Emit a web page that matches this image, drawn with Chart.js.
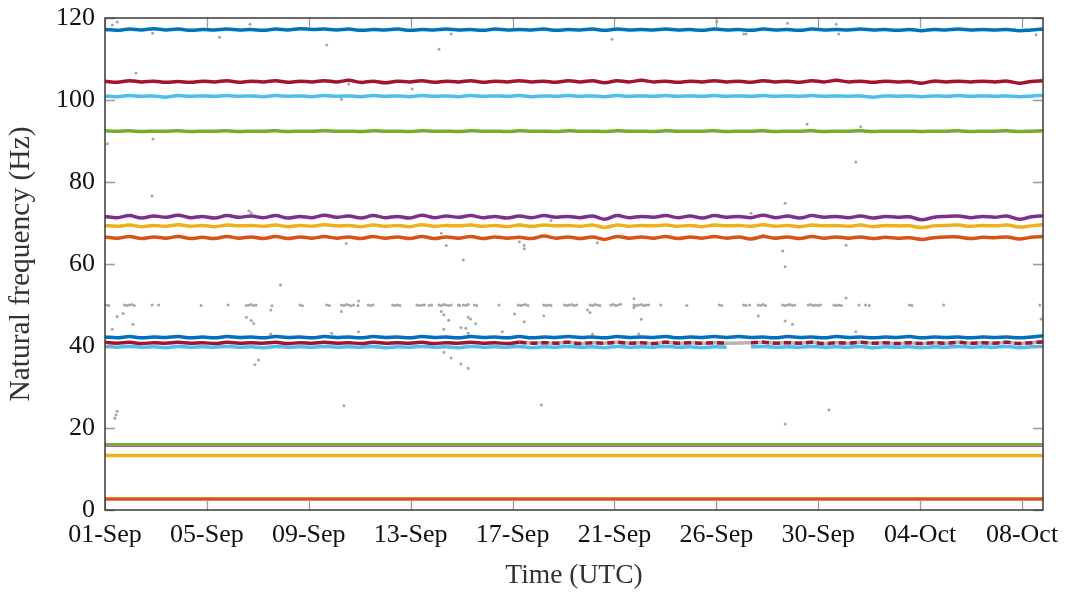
<!DOCTYPE html>
<html>
<head>
<meta charset="utf-8">
<script src="https://cdn.jsdelivr.net/npm/chart.js@4.4.1/dist/chart.umd.min.js"></script>
<style>
  html, body { margin: 0; padding: 0; background: #ffffff; }
  #wrap { width: 1067px; height: 592px; position: relative; }
</style>
</head>
<body>
<div id="wrap"><canvas id="chart"></canvas></div>
<script>
// Time axis: days since 01-Sep 00:00 UTC
const tickLabels = ['01-Sep', '05-Sep', '09-Sep', '13-Sep', '17-Sep', '21-Sep', '26-Sep', '30-Sep', '04-Oct', '08-Oct'];
const TICK_STEP = 4.18;   // days between labelled ticks
const T_END = 38.48;      // last day shown

// Sample times (every half day) for the tracked modes
const days = [
  0, 0.5, 1, 1.5, 2, 2.5, 3, 3.5, 4, 4.5,
  5, 5.5, 6, 6.5, 7, 7.5, 8, 8.5, 9, 9.5,
  10, 10.5, 11, 11.5, 12, 12.5, 13, 13.5, 14, 14.5,
  15, 15.5, 16, 16.5, 17, 17.5, 18, 18.5, 19, 19.5,
  20, 20.5, 21, 21.5, 22, 22.5, 23, 23.5, 24, 24.5,
  25, 25.5, 26, 26.5, 27, 27.5, 28, 28.5, 29, 29.5,
  30, 30.5, 31, 31.5, 32, 32.5, 33, 33.5, 34, 34.5,
  35, 35.5, 36, 36.5, 37, 37.5, 38, 38.48
];

// Tracked natural frequencies (Hz)
const mode117 = [
  117.2,117.0,117.3,117.1,117.4,117.1,117.3,117.0,117.2,117.1,
  117.3,117.1,117.2,117.0,117.3,117.1,117.4,117.2,117.3,117.1,
  117.3,117.0,117.2,117.1,117.3,117.0,117.2,117.1,117.3,117.1,
  117.2,117.0,117.3,117.1,117.2,117.1,117.3,117.0,117.2,117.1,
  117.3,117.0,117.3,117.1,117.2,117.1,117.3,117.1,117.2,117.0,
  117.3,117.1,117.2,117.0,117.3,117.1,117.2,117.0,117.3,117.1,
  117.2,117.1,117.3,117.1,117.2,117.0,117.2,116.9,117.2,117.1,
  117.3,117.1,117.2,117.1,117.2,116.9,117.1,117.3
];
const mode104 = [
  104.6,104.3,104.7,104.4,104.6,104.3,104.5,104.3,104.6,104.4,
  104.7,104.3,104.6,104.4,104.7,104.3,104.6,104.4,104.7,104.4,
  104.8,104.3,104.6,104.2,104.6,104.4,104.7,104.3,104.6,104.4,
  104.7,104.3,104.6,104.4,104.7,104.4,104.6,104.3,104.7,104.4,
  104.7,104.2,104.7,104.4,104.8,104.4,104.6,104.3,104.6,104.4,
  104.7,104.4,104.6,104.3,104.7,104.4,104.6,104.3,104.7,104.4,
  104.8,104.4,104.6,104.3,104.6,104.4,104.5,104.1,104.6,104.4,
  104.6,104.4,104.6,104.4,104.6,104.1,104.5,104.7
];
const mode101 = [
  101.0,100.8,101.1,100.9,101.0,100.7,101.1,100.9,101.0,100.9,
  101.1,100.9,101.0,100.8,101.1,100.9,101.0,100.8,101.1,100.9,
  101.0,100.8,101.1,100.9,101.0,100.8,101.1,100.9,101.0,100.8,
  101.1,100.9,101.0,100.9,101.1,100.8,101.0,100.9,101.1,100.9,
  101.0,100.8,101.1,100.9,101.0,100.9,101.1,100.9,101.0,100.9,
  101.1,100.9,101.0,100.9,101.1,100.9,101.0,100.9,101.1,100.9,
  101.0,100.9,101.0,100.7,101.0,100.9,101.0,100.8,101.0,100.9,
  101.1,100.9,101.0,100.9,101.0,100.8,101.0,101.1
];
const mode92 = [
  92.5,92.4,92.5,92.3,92.4,92.4,92.5,92.3,92.4,92.4,
  92.5,92.3,92.4,92.4,92.5,92.3,92.4,92.4,92.5,92.4,
  92.4,92.3,92.5,92.4,92.4,92.3,92.5,92.4,92.4,92.3,
  92.5,92.4,92.4,92.3,92.5,92.4,92.4,92.3,92.5,92.4,
  92.4,92.3,92.5,92.4,92.4,92.3,92.5,92.4,92.4,92.4,
  92.5,92.3,92.4,92.4,92.5,92.3,92.4,92.4,92.5,92.3,
  92.4,92.4,92.5,92.3,92.4,92.4,92.4,92.3,92.4,92.4,
  92.5,92.3,92.4,92.4,92.5,92.3,92.4,92.5
];
const mode71 = [
  71.6,71.3,71.8,71.2,71.7,71.4,71.9,71.3,71.6,71.2,
  71.8,71.4,71.7,71.3,71.8,71.2,71.6,71.3,71.9,71.4,
  71.7,71.2,71.8,71.3,71.6,71.2,71.9,71.3,71.7,71.4,
  71.8,71.3,71.6,71.2,71.7,71.3,71.8,71.4,71.6,71.3,
  71.7,70.9,71.8,71.3,71.6,71.4,71.8,71.3,71.7,71.2,
  71.8,71.4,71.6,71.3,71.9,71.3,71.7,71.2,71.8,71.4,
  71.6,71.3,71.7,71.2,71.6,71.4,71.5,70.8,71.4,71.6,
  71.7,71.3,71.6,71.4,71.7,70.9,71.5,71.8
];
const mode69 = [
  69.4,69.2,69.5,69.1,69.4,69.2,69.6,69.2,69.4,69.1,
  69.5,69.3,69.4,69.2,69.5,69.1,69.4,69.2,69.6,69.3,
  69.4,69.1,69.5,69.2,69.4,69.1,69.6,69.2,69.4,69.3,
  69.5,69.2,69.4,69.1,69.5,69.2,69.5,69.3,69.4,69.2,
  69.5,68.9,69.5,69.2,69.4,69.3,69.5,69.2,69.4,69.1,
  69.5,69.3,69.4,69.2,69.6,69.2,69.4,69.1,69.5,69.3,
  69.4,69.2,69.5,69.1,69.4,69.3,69.3,68.9,69.3,69.4,
  69.5,69.2,69.4,69.3,69.5,69.0,69.3,69.6
];
const mode66 = [
  66.6,66.3,66.7,66.2,66.6,66.3,66.7,66.2,66.5,66.2,
  66.7,66.3,66.6,66.2,66.7,66.2,66.6,66.3,66.7,66.3,
  66.6,66.2,66.7,66.3,66.6,66.2,66.7,66.2,66.6,66.3,
  66.7,66.2,66.6,66.3,66.5,66.2,66.8,66.3,66.6,66.2,
  66.6,66.0,66.7,66.3,66.6,66.3,66.7,66.2,66.6,66.3,
  66.7,66.3,66.6,66.1,66.7,66.3,66.6,66.2,66.7,66.3,
  66.6,66.3,66.6,66.2,66.5,66.3,66.4,66.0,66.4,66.6,
  66.6,66.2,66.5,66.4,66.6,66.1,66.5,66.7
];
const mode42 = [
  42.2,42.0,42.3,42.0,42.2,42.1,42.3,42.0,42.2,42.0,
  42.3,42.1,42.2,42.0,42.3,42.1,42.2,42.0,42.3,42.1,
  42.2,42.0,42.3,42.1,42.2,42.0,42.3,42.1,42.2,42.0,
  42.3,42.1,42.2,42.0,42.3,42.0,42.2,42.1,42.3,42.1,
  42.2,42.0,42.3,42.1,42.2,42.1,42.3,42.0,42.2,42.1,
  42.3,42.1,42.3,42.1,42.2,42.0,42.3,42.1,42.2,42.0,
  42.3,42.1,42.2,42.0,42.2,42.1,42.3,42.0,42.2,42.1,
  42.2,42.0,42.2,42.1,42.2,42.0,42.2,42.5
];
const mode41 = [
  40.9,40.7,40.9,40.6,40.8,40.7,40.9,40.7,40.8,40.6,
  40.9,40.7,40.8,40.7,40.9,40.6,40.8,40.7,40.9,40.7,
  40.8,40.6,40.9,40.7,40.8,40.7,40.9,40.6,40.8,40.7,
  40.9,40.7,40.8,40.6,40.9,40.7,40.8,40.7,40.9,40.6,
  40.8,40.7,40.9,40.7,40.8,40.6,40.9,40.7,40.8,40.7,
  40.8,40.7,null,40.8,40.9,40.7,40.8,40.7,40.9,40.6,
  40.8,40.7,40.9,40.7,40.8,40.6,40.8,40.6,40.8,40.7,
  40.9,40.7,40.8,40.7,40.9,40.6,40.8,41.0
];
const mode40 = [
  39.9,39.7,39.9,39.7,39.8,39.6,39.9,39.7,39.8,39.7,
  39.9,39.7,39.8,39.6,39.9,39.7,39.8,39.7,39.9,39.7,
  39.8,39.7,39.9,39.6,39.8,39.7,39.9,39.7,39.8,39.6,
  39.9,39.7,39.8,39.7,39.9,39.6,39.8,39.7,39.9,39.7,
  39.8,39.6,39.9,39.7,39.8,39.7,39.9,39.7,39.8,39.6,
  39.8,39.7,null,39.8,39.9,39.7,39.8,39.7,39.9,39.7,
  39.8,39.7,39.9,39.6,39.8,39.7,39.8,39.6,39.8,39.7,
  39.9,39.7,39.8,39.7,39.9,39.6,39.8,39.9
];

// Low modes are nearly constant; sampled coarsely
const lowDays = [0, 6, 12, 18, 24, 30, 36, 38.48];
const mode16 = [16.0, 16.0, 16.0, 16.0, 16.0, 16.0, 16.0, 16.0];
const mode15 = [15.6, 15.6, 15.6, 15.6, 15.6, 15.6, 15.6, 15.6];
const mode13 = [13.3, 13.3, 13.3, 13.3, 13.3, 13.3, 13.3, 13.3];
const mode3  = [2.7, 2.7, 2.7, 2.7, 2.7, 2.7, 2.7, 2.7];

// Unassigned identifications (grey)
const grayDays = [
  0.05,0.15,0.8,0.9,1.0,1.1,1.2,1.93,2.2,3.94,5.05,5.8,5.9,6.0,6.1,6.2,8.0,8.1,9.1,9.2,
  9.7,9.8,9.9,10.0,10.1,10.2,10.38,10.8,10.9,11.0,11.8,11.9,12.0,12.1,12.8,12.9,13.0,13.1,13.3,13.4,
  13.7,13.8,13.9,14.0,14.1,14.2,14.5,14.55,14.7,14.8,14.9,15.15,15.25,16.16,16.95,17.05,17.15,17.25,17.35,18.0,
  18.1,18.2,18.3,18.85,18.95,19.05,19.15,19.25,19.35,19.9,20.0,20.1,20.2,20.3,20.75,20.85,20.95,21.05,21.15,21.7,
  21.8,21.9,22.0,22.1,22.2,22.3,22.8,23.87,25.2,25.3,26.2,26.3,26.45,26.8,26.9,27.0,27.1,27.8,27.9,28.0,
  28.1,28.2,28.3,28.85,28.95,29.05,29.15,29.25,29.35,29.9,30.0,30.1,30.2,30.93,31.2,31.35,33.0,33.1,34.4,38.35,
  0.5,0.3,1.95,1.27,0.1,1.97,1.93,4.7,5.95,9.1,10.0,9.7,13.7,14.2,20.8,25.1,26.3,12.6,28.0,30.0,
  26.2,30.1,38.2,28.8,31.0,30.8,27.9,27.8,27.9,30.4,27.0,30.4,26.8,27.9,28.2,30.8,38.4,26.5,0.5,0.74,
  0.3,1.15,5.8,6.0,6.1,6.8,6.85,7.2,9.7,10.4,10.4,9.3,6.8,5.9,6.0,9.9,13.8,14.0,14.7,17.0,
  17.2,17.2,20.2,18.3,13.8,13.9,14.1,13.9,14.6,14.8,14.9,15.0,15.2,14.9,15.0,16.3,16.8,17.2,18.0,19.8,
  19.9,21.7,21.7,22.0,20.0,21.9,0.4,0.5,0.45,9.8,17.9,27.9,29.7,13.9,14.2,14.6,14.9,6.15,6.3
];
const grayHz = [
  50.0,49.9,50.0,49.9,50.0,50.1,49.9,50.0,50.0,49.9,50.0,49.9,50.0,50.1,49.9,50.0,50.0,49.8,50.0,49.9,
  50.0,49.9,50.1,50.0,49.8,50.0,49.9,50.0,49.9,50.0,50.0,49.9,50.0,49.9,50.0,49.9,50.0,50.0,49.9,50.0,
  50.0,49.9,50.1,50.0,49.9,50.0,50.0,49.9,50.0,49.9,50.1,50.0,49.9,50.0,50.0,49.9,50.0,50.1,49.9,50.0,
  49.9,50.0,49.9,50.0,49.9,50.0,50.1,49.9,50.0,50.0,49.9,50.1,50.0,49.9,50.0,50.1,49.9,50.0,50.2,50.0,
  49.9,50.0,50.1,49.9,50.0,50.0,50.0,49.9,50.0,49.9,50.0,49.9,50.0,50.0,49.9,50.1,49.9,50.0,49.9,50.0,
  50.1,49.9,50.0,50.0,50.1,49.9,50.0,49.9,50.0,50.0,49.9,50.0,49.9,50.0,50.0,49.9,50.0,49.9,50.0,50.0,
  119.0,118.3,116.3,106.6,89.3,90.5,76.6,115.3,118.5,113.4,103.9,100.2,112.4,116.1,114.8,119.1,116.1,102.7,118.7,118.5,
  116.1,116.1,115.9,94.1,93.5,84.9,74.8,63.2,59.3,64.6,67.1,51.7,47.3,46.1,45.3,43.5,46.6,72.4,47.2,47.9,
  44.1,45.3,47.0,46.2,45.5,48.8,49.8,54.9,48.4,51.0,43.5,43.1,42.9,73.0,72.5,65.0,67.5,64.5,61.0,65.4,
  64.6,63.7,65.2,70.6,48.4,47.6,46.3,44.1,44.5,44.3,47.0,46.6,45.4,43.1,42.4,43.5,47.8,45.9,47.4,48.8,
  48.2,51.5,49.4,46.5,42.9,42.9,22.4,24.1,23.2,25.4,25.6,21.0,24.4,38.5,37.1,35.6,34.6,35.4,36.6
];

const COLORS = {
  blue: '#0072BD', orange: '#D95319', yellow: '#EDB120', purple: '#7E2F8E',
  green: '#77AC30', cyan: '#4DBEEE', red: '#A2142F', gray: '#a6a6a6'
};

function pairs(xs, ys) {
  return xs.map((x, i) => ({ x: x, y: ys[i] }));
}

function track(xs, ys, color, width, order, extra) {
  return Object.assign({
    data: pairs(xs, ys),
    showLine: true,
    borderColor: color,
    backgroundColor: color,
    borderWidth: width,
    pointRadius: 0,
    tension: 0.35,
    spanGaps: false,
    order: order
  }, extra || {});
}

// Grey backing under the 41 Hz mode where it alternates with unassigned points
const grayBand = pairs(days, mode41).filter(p => p.x >= 17 && p.y !== null);

const datasets = [
  {
    data: pairs(grayDays, grayHz),
    showLine: false,
    pointRadius: 1.5,
    pointBorderWidth: 0,
    backgroundColor: COLORS.gray,
    borderColor: COLORS.gray,
    order: 20
  },
  { data: grayBand, showLine: true, borderColor: '#b5b5b5', borderWidth: 3.5, pointRadius: 0, tension: 0.35, order: 19 },
  track(days, mode117, COLORS.blue, 3.5, 5),
  track(days, mode104, COLORS.red, 3.5, 5),
  track(days, mode101, COLORS.cyan, 3.5, 5),
  track(days, mode92, COLORS.green, 3.5, 5),
  track(days, mode71, COLORS.purple, 3.5, 5),
  track(days, mode69, COLORS.yellow, 3.5, 5),
  track(days, mode66, COLORS.orange, 3.5, 5),
  track(days, mode42, COLORS.blue, 3.5, 5),
  track(days, mode41, COLORS.red, 3.5, 4, {
    segment: { borderDash: ctx => (ctx.p0.parsed.x >= 17 ? [7, 4] : undefined) }
  }),
  track(days, mode40, COLORS.cyan, 3.5, 5),
  track(lowDays, mode15, COLORS.purple, 1.2, 6, { tension: 0 }),
  track(lowDays, mode16, COLORS.green, 2.8, 5, { tension: 0 }),
  track(lowDays, mode13, COLORS.yellow, 3.5, 5, { tension: 0 }),
  track(lowDays, mode3, COLORS.orange, 3.5, 5, { tension: 0 })
];

// Plot frame with inward tick marks on all four sides
const frameTicks = {
  id: 'frameTicks',
  afterDatasetsDraw(chart) {
    const { ctx, chartArea: a, scales } = chart;
    ctx.save();
    ctx.strokeStyle = '#9a9a9a';
    ctx.lineWidth = 1.3;
    const len = 10;
    scales.y.ticks.forEach(t => {
      const y = Math.round(scales.y.getPixelForValue(t.value)) + 0.5;
      ctx.beginPath();
      ctx.moveTo(a.left, y); ctx.lineTo(a.left + len, y);
      ctx.moveTo(a.right, y); ctx.lineTo(a.right - len, y);
      ctx.stroke();
    });
    scales.x.ticks.forEach(t => {
      const x = Math.round(scales.x.getPixelForValue(t.value)) + 0.5;
      ctx.beginPath();
      ctx.moveTo(x, a.bottom); ctx.lineTo(x, a.bottom - len);
      ctx.moveTo(x, a.top); ctx.lineTo(x, a.top + len);
      ctx.stroke();
    });
    ctx.strokeStyle = '#3a3a3a';
    ctx.lineWidth = 1.5;
    ctx.strokeRect(a.left, a.top, a.right - a.left, a.bottom - a.top);
    ctx.restore();
  }
};

const FONT = "'Liberation Serif', 'DejaVu Serif', serif";

new Chart(document.getElementById('chart'), {
  type: 'scatter',
  data: { datasets: datasets },
  options: {
    responsive: true,
    maintainAspectRatio: false,
    animation: false,
    layout: { padding: { left: 0, right: 24, top: 18, bottom: 0 } },
    plugins: { legend: { display: false }, tooltip: { enabled: false } },
    scales: {
      x: {
        type: 'linear',
        min: 0,
        max: T_END,
        grid: { display: false, drawTicks: false },
        border: { display: false },
        afterBuildTicks(scale) {
          scale.ticks = tickLabels.map((_, i) => ({ value: i * TICK_STEP }));
        },
        afterFit(scale) {
          scale.height = 82;
          scale.paddingLeft = 0;
          scale.paddingRight = 0;
        },
        ticks: {
          autoSkip: false,
          maxRotation: 0,
          padding: 10,
          color: '#111111',
          font: { family: FONT, size: 26 },
          callback: (v, i) => tickLabels[i]
        },
        title: {
          display: true,
          text: 'Time (UTC)',
          color: '#333333',
          font: { family: FONT, size: 27.5 },
          padding: { top: 0, bottom: 0 }
        }
      },
      y: {
        type: 'linear',
        min: 0,
        max: 120,
        grid: { display: false, drawTicks: false },
        border: { display: false },
        afterFit(scale) {
          scale.width = 105;
          scale.paddingTop = 0;
          scale.paddingBottom = 0;
        },
        ticks: {
          stepSize: 20,
          padding: 10,
          color: '#111111',
          font: { family: FONT, size: 26 }
        },
        title: {
          display: true,
          text: 'Natural frequency (Hz)',
          color: '#333333',
          font: { family: FONT, size: 29.5 },
          padding: { top: 4, bottom: 0 }
        }
      }
    }
  },
  plugins: [frameTicks]
});
</script>
</body>
</html>
